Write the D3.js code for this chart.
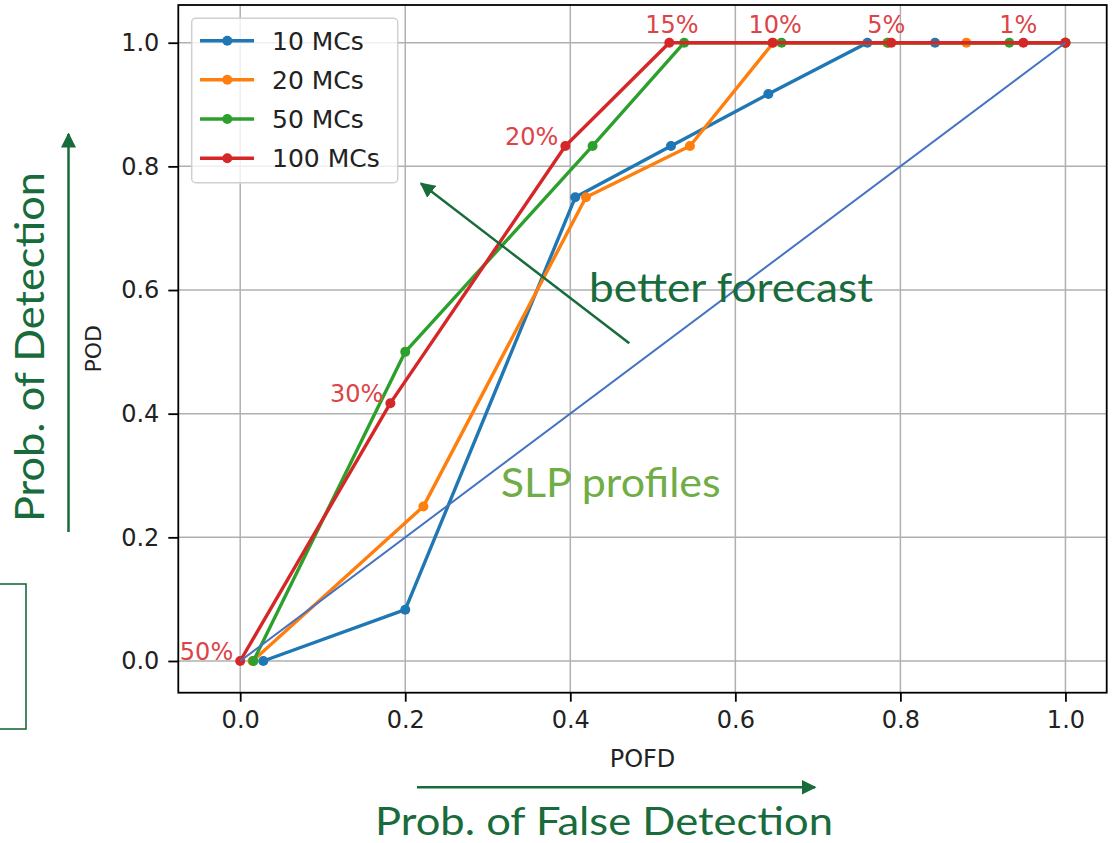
<!DOCTYPE html>
<html>
<head>
<meta charset="utf-8">
<script src="https://cdn.jsdelivr.net/npm/d3@7/dist/d3.min.js"></script>
<style>
  html, body { margin: 0; padding: 0; background: #fff; }
  svg { display: block; }
</style>
</head>
<body>
<svg id="chart" width="1114" height="843"></svg>
<script>
// ---- data ----
const seriesNames = ["10 MCs", "20 MCs", "50 MCs", "100 MCs"];
const seriesColors = ["#1f77b4", "#ff7f0e", "#2ca02c", "#d62728"];
const pofd10  = [0.028, 0.200, 0.406, 0.522, 0.640, 0.760, 0.842, 1.000];
const pod10   = [0.000, 0.083, 0.750, 0.833, 0.917, 1.000, 1.000, 1.000];
const pofd20  = [0.015, 0.222, 0.419, 0.545, 0.646, 0.784, 0.880, 1.000];
const pod20   = [0.000, 0.250, 0.750, 0.833, 1.000, 1.000, 1.000, 1.000];
const pofd50  = [0.016, 0.200, 0.427, 0.538, 0.656, 0.785, 0.932, 1.000];
const pod50   = [0.000, 0.500, 0.833, 1.000, 1.000, 1.000, 1.000, 1.000];
const pofd100 = [0.000, 0.182, 0.394, 0.520, 0.645, 0.789, 0.949, 1.000];
const pod100  = [0.000, 0.417, 0.833, 1.000, 1.000, 1.000, 1.000, 1.000];
const thresholdLabels = ["50%", "30%", "20%", "15%", "10%", "5%", "1%"];
const xTicks = [0.0, 0.2, 0.4, 0.6, 0.8, 1.0];
const yTicks = [0.0, 0.2, 0.4, 0.6, 0.8, 1.0];
const refX = [0, 1];
const refY = [0, 1];

const allX = [pofd10, pofd20, pofd50, pofd100];
const allY = [pod10, pod20, pod50, pod100];

// ---- layout ----
const svg = d3.select("#chart");
const L = 178.3, R = 1106.7, T = 5, B = 692.7;
const x = d3.scaleLinear().domain([-0.075, 1.05]).range([L, R]);
const y = d3.scaleLinear().domain([-0.0513, 1.061]).range([B, T]);
const tickFont = "'DejaVu Sans', sans-serif";
const annFont = "Lato, 'Open Sans', sans-serif";
const green = "#186b3a";

// grid
const grid = svg.append("g");
grid.selectAll("line.gx").data(xTicks).join("line")
  .attr("x1", d => x(d)).attr("x2", d => x(d)).attr("y1", T).attr("y2", B)
  .attr("stroke", "#b0b0b0").attr("stroke-width", 1.5);
grid.selectAll("line.gy").data(yTicks).join("line")
  .attr("x1", L).attr("x2", R).attr("y1", d => y(d)).attr("y2", d => y(d))
  .attr("stroke", "#b0b0b0").attr("stroke-width", 1.5);

// series
const line = d3.line().x(d => x(d[0])).y(d => y(d[1]));
seriesNames.forEach((name, i) => {
  const pts = allX[i].map((v, j) => [v, allY[i][j]]);
  const g = svg.append("g");
  g.append("path").datum(pts).attr("d", line)
    .attr("fill", "none").attr("stroke", seriesColors[i])
    .attr("stroke-width", 3.4).attr("stroke-linejoin", "round");
  g.selectAll("circle").data(pts).join("circle")
    .attr("cx", d => x(d[0])).attr("cy", d => y(d[1])).attr("r", 5)
    .attr("fill", seriesColors[i]);
});

// threshold labels on 100 MCs
const lab = svg.append("g").attr("font-family", tickFont).attr("font-size", 24).attr("fill", "#dc4448");
thresholdLabels.forEach((t, j) => {
  const px = x(pofd100[j]), py = y(pod100[j]);
  if (pod100[j] >= 1) {
    lab.append("text").attr("x", px - 24).attr("y", py - 9.5).attr("text-anchor", "start").text(t);
  } else {
    lab.append("text").attr("x", px - 7).attr("y", py - 1).attr("text-anchor", "end").text(t);
  }
});

// reference line (overlay)
svg.append("path").datum(refX.map((v, j) => [v, refY[j]])).attr("d", line)
  .attr("fill", "none").attr("stroke", "#4472c4").attr("stroke-width", 2);

// spines
svg.append("rect").attr("x", L).attr("y", T).attr("width", R - L).attr("height", B - T)
  .attr("fill", "none").attr("stroke", "#000").attr("stroke-width", 1.8);

// axes
const xAxis = svg.append("g").attr("transform", `translate(0,${B})`)
  .call(d3.axisBottom(x).tickValues(xTicks).tickFormat(d3.format(".1f")).tickSize(9).tickPadding(9));
const yAxis = svg.append("g").attr("transform", `translate(${L},0)`)
  .call(d3.axisLeft(y).tickValues(yTicks).tickFormat(d3.format(".1f")).tickSize(10).tickPadding(9));
[xAxis, yAxis].forEach(a => {
  a.select(".domain").remove();
  a.selectAll(".tick line").attr("stroke", "#000").attr("stroke-width", 1.8);
  a.selectAll(".tick text").attr("font-family", tickFont).attr("font-size", 24).attr("fill", "#222");
});

// axis labels
svg.append("text").attr("x", (L + R) / 2).attr("y", 767).attr("text-anchor", "middle")
  .attr("font-family", tickFont).attr("font-size", 24).attr("fill", "#222").text("POFD");
svg.append("text").attr("transform", `translate(101,${(T + B) / 2}) rotate(-90)`).attr("text-anchor", "middle")
  .attr("font-family", tickFont).attr("font-size", 22).attr("fill", "#222").text("POD");

// legend
const lg = svg.append("g");
lg.append("rect").attr("x", 191.7).attr("y", 18.3).attr("width", 206).attr("height", 164.4)
  .attr("rx", 4).attr("fill", "#fff").attr("fill-opacity", 0.8)
  .attr("stroke", "#d0d0d0").attr("stroke-width", 1.5);
const rowY = [40.7, 79.7, 119, 158.3];
seriesNames.forEach((name, i) => {
  lg.append("line").attr("x1", 200).attr("x2", 254).attr("y1", rowY[i]).attr("y2", rowY[i])
    .attr("stroke", seriesColors[i]).attr("stroke-width", 3.4);
  lg.append("circle").attr("cx", 227.3).attr("cy", rowY[i]).attr("r", 5).attr("fill", seriesColors[i]);
  lg.append("text").attr("x", 272).attr("y", rowY[i] + 9)
    .attr("font-family", tickFont).attr("font-size", 25).attr("fill", "#222").text(name);
});

// ---- annotations (overlay) ----
const defs = svg.append("defs");
defs.append("marker").attr("id", "ah").attr("viewBox", "0 0 10 10")
  .attr("refX", 9).attr("refY", 5).attr("markerWidth", 6).attr("markerHeight", 6)
  .attr("markerUnits", "strokeWidth").attr("orient", "auto")
  .append("path").attr("d", "M0,0 L10,5 L0,10 z").attr("fill", green);

function arrow(x1, y1, x2, y2) {
  svg.append("line").attr("x1", x1).attr("y1", y1).attr("x2", x2).attr("y2", y2)
    .attr("stroke", green).attr("stroke-width", 2.5).attr("marker-end", "url(#ah)");
}
arrow(68.5, 532, 68.5, 134);
arrow(417, 787.3, 815, 787.3);
arrow(629.3, 343.3, 421, 183.5);

svg.append("text").attr("transform", "translate(44,522) rotate(-90)")
  .attr("font-family", annFont).attr("font-size", 40).attr("fill", green)
  .attr("textLength", 350).attr("lengthAdjust", "spacingAndGlyphs").text("Prob. of Detection");
svg.append("text").attr("x", 375).attr("y", 835)
  .attr("font-family", annFont).attr("font-size", 38).attr("fill", green)
  .attr("textLength", 458).attr("lengthAdjust", "spacingAndGlyphs").text("Prob. of False Detection");
svg.append("text").attr("x", 589).attr("y", 301.7)
  .attr("font-family", annFont).attr("font-size", 40).attr("fill", green)
  .attr("textLength", 284).attr("lengthAdjust", "spacingAndGlyphs").text("better forecast");
svg.append("text").attr("x", 500.7).attr("y", 497.3)
  .attr("font-family", annFont).attr("font-size", 40).attr("fill", "#70ad47")
  .attr("textLength", 220).attr("lengthAdjust", "spacingAndGlyphs").text("SLP profiles");

// partial box at left edge
svg.append("rect").attr("x", -5).attr("y", 584).attr("width", 31).attr("height", 145)
  .attr("fill", "none").attr("stroke", green).attr("stroke-width", 1.6);
</script>
</body>
</html>
